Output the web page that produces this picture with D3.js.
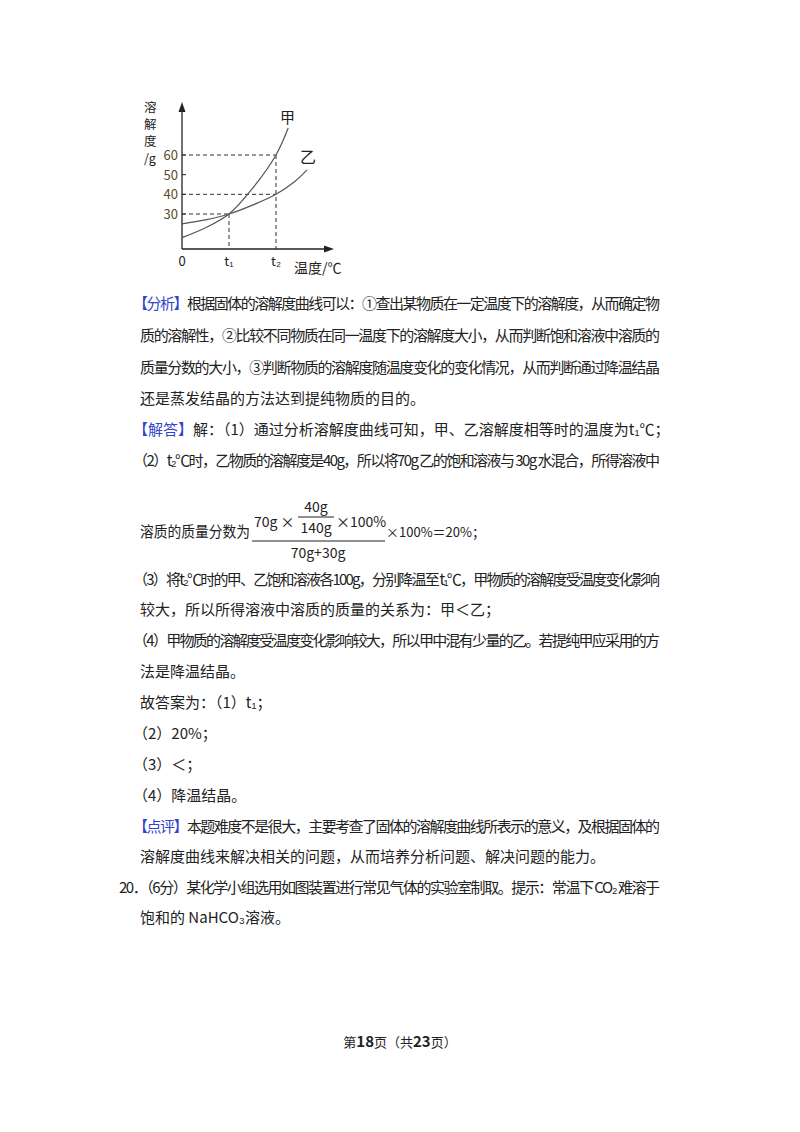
<!DOCTYPE html>
<html><head><meta charset="utf-8">
<script src="https://cdn.jsdelivr.net/npm/d3@7"></script>
<style>body{margin:0;background:#fff}text{font-family:"Noto Sans CJK SC",sans-serif;fill:#222}</style>
</head><body>
<script>
// solubility curves (x in units of t1, y in g)
const jia = [[0,18],[0.5,23],[1,30],[1.5,43],[2,60],[2.26,73.7]];
const yi = [[0,25],[0.5,27],[1,30],[1.5,34.5],[2,40],[2.4,46.5],[2.66,52.4]];
const yTicks = [30,40,50,60];
const xTicks = [[0,"0"],[1,"t₁"],[2,"t₂"]];
const guides = [[1,30],[2,60],[2,40]];

const lines = [
  {x:133,y:309,w:527,parts:[["【分析】","#3344cc"],["根据固体的溶解度曲线可以：①查出某物质在一定温度下的溶解度，从而确定物"]]},
  {x:140,y:341,w:520,parts:[["质的溶解性，②比较不同物质在同一温度下的溶解度大小，从而判断饱和溶液中溶质的"]]},
  {x:140,y:373,w:520,parts:[["质量分数的大小，③判断物质的溶解度随温度变化的变化情况，从而判断通过降温结晶"]]},
  {x:140,y:404,parts:[["还是蒸发结晶的方法达到提纯物质的目的。"]]},
  {x:133,y:435,parts:[["【解答】","#3344cc"],["解：（1）通过分析溶解度曲线可知，甲、乙溶解度相等时的温度为t₁℃；"]]},
  {x:133,y:466,w:527,parts:[["（2）t₂℃时，乙物质的溶解度是40g，所以将70g 乙的饱和溶液与 30g 水混合，所得溶液中"]]},
  {x:133,y:585,w:527,parts:[["（3）将t₂℃时的甲、乙饱和溶液各100g，分别降温至 t₁℃，甲物质的溶解度受温度变化影响"]]},
  {x:140,y:615,parts:[["较大，所以所得溶液中溶质的质量的关系为：甲＜乙；"]]},
  {x:133,y:646,w:527,parts:[["（4）甲物质的溶解度受温度变化影响较大，所以甲中混有少量的乙。若提纯甲应采用的方"]]},
  {x:140,y:677,parts:[["法是降温结晶。"]]},
  {x:140,y:708,parts:[["故答案为：（1）t₁；"]]},
  {x:133,y:739,parts:[["（2）20%；"]]},
  {x:133,y:770,parts:[["（3）＜；"]]},
  {x:133,y:801,parts:[["（4）降温结晶。"]]},
  {x:133,y:832,w:527,parts:[["【点评】","#3344cc"],["本题难度不是很大，主要考查了固体的溶解度曲线所表示的意义，及根据固体的"]]},
  {x:140,y:862,parts:[["溶解度曲线来解决相关的问题，从而培养分析问题、解决问题的能力。"]]},
  {x:119,y:893,w:541,parts:[["20．（6分）某化学小组选用如图装置进行常见气体的实验室制取。提示：常温下 CO₂ 难溶于"]]},
  {x:140,y:923,parts:[["饱和的  NaHCO₃溶液。"]]}
];

const svg = d3.select("body").append("svg").attr("width",800).attr("height",1132);

const x = d3.scaleLinear().domain([0,1]).range([182,229]);
const y = d3.scaleLinear().domain([30,60]).range([214,155]);
const g = svg.append("g");

// axes with arrows
g.append("line").attr("x1",182).attr("y1",249).attr("x2",182).attr("y2",110).attr("stroke","#222").attr("stroke-width",1.3);
g.append("path").attr("d","M182,102L178.5,112L185.5,112Z").attr("fill","#222");
g.append("line").attr("x1",182).attr("y1",249).attr("x2",326).attr("y2",249).attr("stroke","#222").attr("stroke-width",1.3);
g.append("path").attr("d","M334,249L324,245.5L324,252.5Z").attr("fill","#222");

yTicks.forEach(v => {
  g.append("line").attr("x1",182).attr("x2",186).attr("y1",y(v)).attr("y2",y(v)).attr("stroke","#222");
  g.append("text").attr("x",178).attr("y",y(v)+5).attr("text-anchor","end").attr("font-size",13).style("fill","#5a4a2a").text(v);
});
xTicks.forEach(([t,l]) => g.append("text").attr("x",x(t)).attr("y",266).attr("text-anchor","middle").attr("font-size",13).text(l));

guides.forEach(([t,v]) => {
  g.append("line").attr("x1",182).attr("x2",x(t)).attr("y1",y(v)).attr("y2",y(v)).attr("stroke","#333").attr("stroke-dasharray","4,3");
});
[[1,30],[2,60]].forEach(([t,v]) => g.append("line").attr("x1",x(t)).attr("x2",x(t)).attr("y1",y(v)).attr("y2",249).attr("stroke","#333").attr("stroke-dasharray","4,3"));

const line = d3.line().x(d => x(d[0])).y(d => y(d[1])).curve(d3.curveCatmullRom);
[jia,yi].forEach(s => g.append("path").attr("d",line(s)).attr("fill","none").attr("stroke","#555").attr("stroke-width",1.2));

g.append("text").attr("x",280).attr("y",123).attr("font-size",15).text("甲");
g.append("text").attr("x",300).attr("y",163).attr("font-size",16).text("乙");
["溶","解","度","/g"].forEach((c,i) => g.append("text").attr("x",144).attr("y",112+i*17).attr("font-size",12.5).text(c));
g.append("text").attr("x",294).attr("y",273).attr("font-size",14).text("温度/℃");

// body text
lines.forEach(l => {
  const t = svg.append("text").attr("x",l.x).attr("y",l.y).attr("font-size",15);
  if (l.w) t.attr("textLength",l.w).attr("lengthAdjust","spacing");
  l.parts.forEach(([s,c]) => { const ts = t.append("tspan").text(s); if (c) ts.style("fill",c); });
});

// formula line
svg.append("text").attr("x",140).attr("y",537).attr("font-size",15).attr("textLength",110).attr("lengthAdjust","spacingAndGlyphs").text("溶质的质量分数为");
svg.append("text").attr("x",254).attr("y",527).attr("font-size",14).text("70g ×");
svg.append("text").attr("x",316).attr("y",512).attr("font-size",14).attr("text-anchor","middle").text("40g");
svg.append("line").attr("x1",298).attr("x2",334).attr("y1",517).attr("y2",517).attr("stroke","#222");
svg.append("text").attr("x",316).attr("y",533).attr("font-size",14).attr("text-anchor","middle").text("140g");
svg.append("text").attr("x",336).attr("y",527).attr("font-size",14).text("×100%");
svg.append("line").attr("x1",252).attr("x2",385).attr("y1",541).attr("y2",541).attr("stroke","#222");
svg.append("text").attr("x",318).attr("y",558).attr("font-size",14).attr("text-anchor","middle").text("70g+30g");
svg.append("text").attr("x",386).attr("y",537).attr("font-size",13).text("×100%＝20%；");

// footer
const ft = svg.append("text").attr("x",400).attr("y",1047).attr("font-size",13).attr("text-anchor","middle");
ft.append("tspan").text("第");
ft.append("tspan").attr("font-weight","bold").attr("font-size",15).text("18");
ft.append("tspan").text("页（共");
ft.append("tspan").attr("font-weight","bold").attr("font-size",15).text("23");
ft.append("tspan").text("页）");
</script>
</body></html>
